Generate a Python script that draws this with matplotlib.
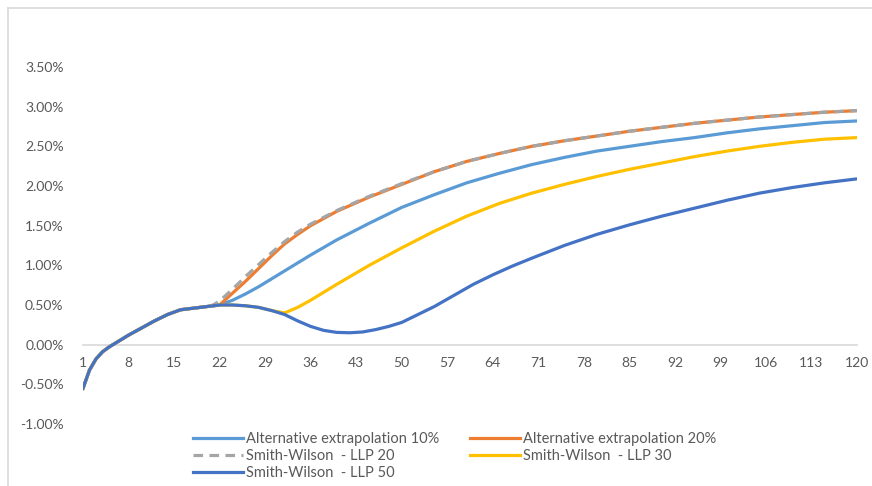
import matplotlib
matplotlib.use("Agg")
import matplotlib.pyplot as plt
from matplotlib.lines import Line2D
from matplotlib.ticker import FuncFormatter

# Shared short end of the curve (months 1..22, in %).
base_months = [1, 2, 3, 4, 5, 6, 8, 10, 12, 14, 16, 18, 20, 22]
base_values = [-0.55, -0.32, -0.18, -0.09, -0.03, 0.02, 0.12, 0.21, 0.30, 0.38, 0.44, 0.46, 0.48, 0.50]

# Tails of each series after month 22.
alt10_months = [24, 26, 28, 30, 33, 36, 40, 45, 50, 55, 60, 65, 70, 75, 80, 85, 90, 95, 100, 105, 110, 115, 120]
alt10_values = [0.56, 0.64, 0.73, 0.83, 0.98, 1.13, 1.32, 1.53, 1.73, 1.89, 2.04, 2.16, 2.27, 2.36, 2.44, 2.50,
                2.56, 2.61, 2.67, 2.72, 2.76, 2.80, 2.82]

alt20_months = [24, 26, 28, 30, 32, 34, 36, 40, 45, 50, 55, 60, 65, 70, 75, 80, 85, 90, 95, 100, 105, 110, 115, 120]
alt20_values = [0.65, 0.80, 0.96, 1.12, 1.27, 1.39, 1.50, 1.68, 1.86, 2.02, 2.18, 2.31, 2.41, 2.50, 2.57, 2.63,
                2.69, 2.74, 2.79, 2.83, 2.87, 2.90, 2.93, 2.95]

llp20_months = [21, 22, 24, 26, 28, 30, 32, 34, 36, 40, 45, 50, 55, 60, 65, 70, 75, 80, 85, 90, 95, 100, 105, 110,
                115, 120]
llp20_values = [0.50, 0.55, 0.70, 0.86, 1.01, 1.16, 1.30, 1.42, 1.52, 1.69, 1.87, 2.03, 2.18, 2.31, 2.41, 2.50, 2.57,
                2.63, 2.69, 2.74, 2.79, 2.83, 2.87, 2.90, 2.93, 2.95]

llp30_months = [24, 26, 28, 30, 32, 34, 36, 40, 45, 50, 55, 60, 65, 70, 75, 80, 85, 90, 95, 100, 105, 110, 115, 120]
llp30_values = [0.50, 0.49, 0.47, 0.43, 0.40, 0.47, 0.56, 0.76, 1.00, 1.22, 1.43, 1.62, 1.78, 1.91, 2.02, 2.12,
                2.21, 2.29, 2.37, 2.44, 2.50, 2.55, 2.59, 2.61]

llp50_months = [24, 26, 28, 30, 32, 34, 36, 38, 40, 42, 44, 46, 48, 50, 52, 55, 58, 61, 64, 67, 70, 75, 80, 85, 90,
                95, 100, 105, 110, 115, 120]
llp50_values = [0.50, 0.49, 0.47, 0.43, 0.38, 0.30, 0.23, 0.18, 0.155, 0.15, 0.16, 0.19, 0.23, 0.28, 0.36, 0.48,
                0.62, 0.76, 0.88, 0.99, 1.09, 1.25, 1.39, 1.51, 1.62, 1.72, 1.82, 1.91, 1.98, 2.04, 2.09]

x_ticks = list(range(1, 121, 7))
y_ticks = [-1.0, -0.5, 0.0, 0.5, 1.0, 1.5, 2.0, 2.5, 3.0, 3.5]

plt.rcParams["font.family"] = ["Lato", "DejaVu Sans"]
label_color = "#595959"

fig = plt.figure(figsize=(8.72, 4.86), dpi=100)
ax = fig.add_axes([83 / 872, 1 - 424 / 486, (857 - 83) / 872, (424 - 67) / 486])

lw = 2.3
ax.plot(base_months + alt10_months, base_values + alt10_values, color="#5B9BD5", lw=lw,
        label="Alternative extrapolation 10%")
ax.plot(base_months + alt20_months, base_values + alt20_values, color="#ED7D31", lw=lw,
        label="Alternative extrapolation 20%")
ax.plot(base_months[:-1] + llp20_months, base_values[:-1] + llp20_values, color="#A5A5A5", lw=lw,
        dashes=(3, 2), label="Smith-Wilson  - LLP 20")
ax.plot(base_months + llp30_months, base_values + llp30_values, color="#FFC000", lw=lw,
        label="Smith-Wilson  - LLP 30")
ax.plot(base_months + llp50_months, base_values + llp50_values, color="#4472C4", lw=lw,
        label="Smith-Wilson  - LLP 50")

ax.set_xlim(1, 120)
ax.set_ylim(-1.0, 3.5)
ax.set_xticks(x_ticks)
ax.set_yticks(y_ticks)
ax.yaxis.set_major_formatter(FuncFormatter(lambda v, p: f"{v:.2f}%"))

for side in ["top", "right", "left"]:
    ax.spines[side].set_visible(False)
ax.spines["bottom"].set_position(("data", 0))
ax.spines["bottom"].set_color("#d9d9d9")
ax.spines["bottom"].set_linewidth(1.2)
ax.spines["bottom"].set_zorder(0)
ax.tick_params(axis="x", length=0, pad=9, labelsize=10, labelcolor=label_color)
ax.tick_params(axis="y", length=0, pad=14, labelsize=10, labelcolor=label_color)

# Legend in two columns below the plot.
handles, labels = ax.get_legend_handles_labels()
leg_kw = dict(frameon=False, fontsize=10.5, labelcolor=label_color, handlelength=3.4,
              handletextpad=0.25, labelspacing=0.22, borderpad=0, borderaxespad=0)
fig.legend([handles[0], handles[2], handles[4]], [labels[0], labels[2], labels[4]],
           loc="upper left", bbox_to_anchor=(193 / 872, 1 - 432 / 486), **leg_kw)
fig.legend([handles[1], handles[3]], [labels[1], labels[3]],
           loc="upper left", bbox_to_anchor=(470 / 872, 1 - 432 / 486), **leg_kw)

# Light chart border (left and top edges).
border = "#d9d9d9"
fig.add_artist(Line2D([8 / 872, 8 / 872], [0, 1 - 8 / 486], color=border, lw=1.2))
fig.add_artist(Line2D([8 / 872, 1], [1 - 8 / 486, 1 - 8 / 486], color=border, lw=1.2))

fig.savefig("out.png", dpi=100)
plt.close(fig)
